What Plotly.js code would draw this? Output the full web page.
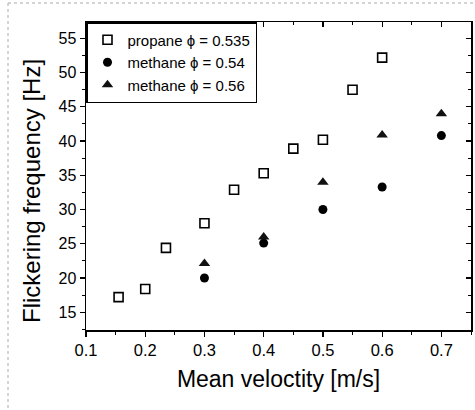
<!DOCTYPE html>
<html>
<head>
<meta charset="utf-8">
<script src="https://cdn.plot.ly/plotly-3.0.1.min.js"></script>
<style>
html,body{margin:0;padding:0;background:#fff;}
#chart{width:475px;height:410px;}
</style>
</head>
<body>
<div id="chart"></div>
<script>
// Data
const propaneX = [0.155, 0.2, 0.235, 0.3, 0.35, 0.4, 0.45, 0.5, 0.55, 0.6];
const propaneY = [17.2, 18.4, 24.4, 28.0, 32.9, 35.3, 38.9, 40.2, 47.5, 52.2];
const methane54X = [0.3, 0.4, 0.5, 0.6, 0.7];
const methane54Y = [20.0, 25.1, 30.0, 33.3, 40.8];
const methane56X = [0.3, 0.4, 0.5, 0.6, 0.7];
const methane56Y = [22.1, 26.0, 34.0, 40.9, 44.0];
const seriesNames = ['propane \u03d5 = 0.535', 'methane \u03d5 = 0.54', 'methane \u03d5 = 0.56'];
const xTickVals = [0.1, 0.2, 0.3, 0.4, 0.5, 0.6, 0.7];
const yTickVals = [15, 20, 25, 30, 35, 40, 45, 50, 55];
const xTitle = 'Mean veloctity [m/s]';
const yTitle = 'Flickering frequency [Hz]';

const FONT = 'Liberation Sans, Arial, sans-serif';

const traces = [
  {x: propaneX, y: propaneY, name: seriesNames[0], type: 'scatter', mode: 'markers', legendgroup: 'a',
   marker: {symbol: 'square-open', size: 9, color: '#000', line: {width: 1.6, color: '#000'}}},
  {x: methane54X, y: methane54Y, name: seriesNames[1], type: 'scatter', mode: 'markers', legendgroup: 'b',
   marker: {symbol: 'circle', size: 9, color: '#000'}},
  {x: methane56X, y: methane56Y, name: seriesNames[2], type: 'scatter', mode: 'markers', legendgroup: 'c',
   marker: {symbol: 'triangle-up', size: 10, color: '#111'}},
  {x: [], y: [], xaxis: 'x2', yaxis: 'y2', showlegend: false, hoverinfo: 'skip', type: 'scatter', mode: 'markers'}
];

const xr = [0.1, 0.75];
const yr = [12.4, 57.4];

const layout = {
  width: 475, height: 410,
  margin: {l: 86, r: 4, t: 22, b: 80},
  paper_bgcolor: '#fff', plot_bgcolor: '#fff',
  font: {family: FONT, color: '#000'},
  showlegend: true,
  legend: {
    x: 0, y: 1, xanchor: 'left', yanchor: 'top',
    bgcolor: '#fff', bordercolor: '#000', borderwidth: 1.5,
    font: {family: FONT, size: 15, color: '#000'},
    traceorder: 'grouped', tracegroupgap: 0
  },
  xaxis: {
    range: xr, tickvals: xTickVals, ticktext: xTickVals.map(v => v.toFixed(1)),
    showgrid: false, zeroline: false,
    showline: true, linecolor: '#000', linewidth: 1.5, mirror: true,
    ticks: 'outside', ticklen: 5, tickwidth: 1.2, tickcolor: '#000',
    minor: {dtick: 0.05, ticks: 'outside', ticklen: 3, tickwidth: 1, tickcolor: '#000', showgrid: false},
    tickfont: {family: FONT, size: 16.5, color: '#000'},
    title: {text: xTitle, font: {family: FONT, size: 23, color: '#000'}, standoff: 12}
  },
  yaxis: {
    range: yr, tickvals: yTickVals,
    showgrid: false, zeroline: false,
    showline: true, linecolor: '#000', linewidth: 1.5, mirror: true,
    ticks: 'outside', ticklen: 5, tickwidth: 1.2, tickcolor: '#000',
    minor: {dtick: 2.5, tick0: 0, ticks: 'outside', ticklen: 3, tickwidth: 1, tickcolor: '#000', showgrid: false},
    tickfont: {family: FONT, size: 16, color: '#000'}
  },
  xaxis2: {
    overlaying: 'x', side: 'top', anchor: 'y2', matches: 'x', range: xr,
    tickvals: xTickVals, showticklabels: false, showgrid: false, zeroline: false,
    ticks: 'inside', ticklen: 5, tickwidth: 1.2, tickcolor: '#000', showline: false,
    minor: {dtick: 0.05, ticks: 'inside', ticklen: 3, tickwidth: 1, tickcolor: '#000', showgrid: false}
  },
  yaxis2: {
    overlaying: 'y', side: 'right', anchor: 'x2', matches: 'y', range: yr,
    tickvals: yTickVals, showticklabels: false, showgrid: false, zeroline: false,
    ticks: 'inside', ticklen: 5, tickwidth: 1.2, tickcolor: '#000', showline: false,
    minor: {dtick: 2.5, tick0: 0, ticks: 'inside', ticklen: 3, tickwidth: 1, tickcolor: '#000', showgrid: false}
  },
  annotations: [
    {text: yTitle, xref: 'paper', yref: 'paper', x: (31 - 86) / 385, y: (330 - 191) / 308,
     xanchor: 'center', yanchor: 'middle', textangle: -90, showarrow: false,
     font: {family: FONT, size: 24, color: '#000'}}
  ],
  shapes: [
    {type: 'line', xref: 'paper', yref: 'paper', x0: (8 - 86) / 385, x1: (8 - 86) / 385,
     y0: (330 - 3) / 308, y1: (330 - 410) / 308, line: {color: '#aaa', width: 1, dash: 'dot'}},
    {type: 'line', xref: 'paper', yref: 'paper', x0: (8 - 86) / 385, x1: (475 - 86) / 385,
     y0: (330 - 3) / 308, y1: (330 - 3) / 308, line: {color: '#aaa', width: 1, dash: 'dot'}}
  ]
};

Plotly.newPlot('chart', traces, layout, {displayModeBar: false, staticPlot: true});
</script>
</body>
</html>
